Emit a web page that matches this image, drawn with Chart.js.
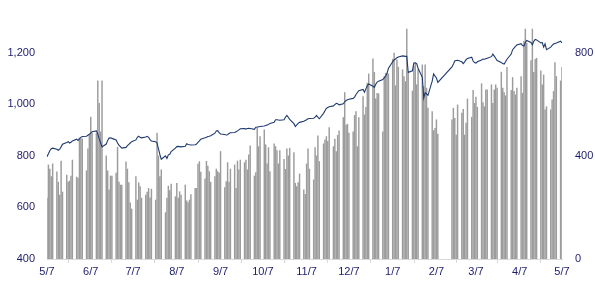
<!DOCTYPE html>
<html>
<head>
<meta charset="utf-8">
<script src="https://cdn.jsdelivr.net/npm/chart.js@4.4.0/dist/chart.umd.min.js"></script>
<style>
  html, body { margin: 0; padding: 0; background: #fff; }
  #wrap { width: 595px; height: 301px; }
</style>
</head>
<body>
<div id="wrap"><canvas id="chart"></canvas></div>
<script>
// tick labels on the date axis (the 7th of each month)
const monthTicks = ['5/7', '6/7', '7/7', '8/7', '9/7', '10/7', '11/7', '12/7', '1/7', '2/7', '3/7', '4/7', '5/7']
const leftTicks = [400, 600, 800, 1000, 1200]
const rightTicks = [0, 400, 800]
// market closed (besides weekends)
const holidays = ['2013-02-11', '2013-02-12', '2013-02-13', '2013-02-14', '2013-02-15']

// daily volume (right axis), one row per month from the 7th
const volume = [
  236, 365, 349, 320, 369, 338, 298, 248, 380, 260, 326, 298, 303, 322, 384, 318, 314, 470, 466, 466, 342, 427, 481,
  551, 488, 488, 691, 604, 493, 691, 400, 342, 268, 322, 322, 333, 434, 298, 287, 287, 377, 349, 296, 218, 194,
  320, 229, 296, 281, 236, 248, 260, 274, 237, 271, 229, 488, 400, 320, 346, 180, 236, 283, 265, 291, 242,
  294, 236, 261, 248, 287, 226, 219, 229, 250, 274, 274, 368, 378, 337, 311, 379, 360, 339, 298, 320, 349, 339, 333,
  417, 277, 300, 374, 298, 349, 365, 274, 380, 346, 384, 374, 384, 346, 404, 439, 322, 335, 507, 436, 475,
  501, 443, 369, 432, 339, 447, 436, 421, 369, 421, 387, 348, 427, 400, 430, 413, 294, 281, 296, 330, 268, 251,
  369, 427, 349, 307, 432, 400, 478, 378, 447, 462, 475, 456, 510, 436, 465, 417, 480, 497, 549, 646, 520, 523,
  488, 493, 557, 572, 436, 549, 630, 559, 588, 682, 718, 777, 724, 621, 643, 641, 493, 708, 721, 721, 718,
  775, 799, 672, 773, 744, 734, 708, 688, 892, 721, 652, 747, 760, 676, 736, 753, 669, 753, 663, 585, 572, 498, 507,
  540, 485, 540, 585, 546, 481, 598, 566, 581, 481, 527, 621, 550, 654, 604,
  628, 589, 680, 607, 591, 656, 656, 676, 604, 656, 676, 663, 725, 663, 646, 633, 744, 654, 704, 650, 637, 663,
  708, 643, 844, 892, 838, 770, 892, 724, 775, 779, 730, 676, 714, 579, 591, 579, 617, 650, 762, 708, 691,
  744
]

// index level (left axis)
const indexLevel = [
  797, 808, 820, 828, 830, 826, 822, 826, 835, 845, 852, 855, 850, 853, 858, 865, 860, 866, 872, 875, 876, 880, 884,
  888, 894, 897, 885, 866, 850, 835, 846, 860, 869, 870, 868, 862, 850, 842, 836, 830, 833, 840, 845, 850, 855,
  862, 872, 876, 872, 870, 873, 876, 872, 863, 858, 855, 850, 828, 805, 787, 800, 790, 804, 806, 817, 830,
  836, 837, 836, 835, 837, 847, 844, 843, 842, 843, 846, 852, 858, 865, 870, 872, 875, 876, 878, 888, 897, 898, 890,
  885, 883, 881, 882, 887, 890, 891, 894, 897, 901, 905, 906, 904, 906, 907, 906, 903, 911, 911, 913, 914,
  916, 918, 920, 922, 926, 930, 940, 940, 939, 938, 940, 950, 957, 950, 942, 925, 914, 920, 926, 930, 934, 937,
  940, 944, 945, 946, 950, 957, 950, 944, 965, 975, 984, 988, 991, 994, 999, 1004, 1002, 998, 1002, 1010, 1015, 1018,
  1020, 1023, 1028, 1038, 1046, 1053, 1058, 1047, 1060, 1072, 1079, 1070, 1066, 1078, 1086, 1090, 1096, 1103, 1109, 1120, 1140,
  1165, 1172, 1176, 1181, 1184, 1188, 1187, 1186, 1186, 1124, 1130, 1160, 1161, 1158, 1140, 1105, 1025, 1045, 1040, 1035, 1090, 1118, 1110,
  1102, 1085, 1145, 1155, 1168, 1170, 1171, 1165, 1158, 1165, 1173, 1178, 1183, 1168, 1162,
  1160, 1165, 1172, 1176, 1175, 1177, 1179, 1185, 1195, 1187, 1179, 1170, 1162, 1158, 1156, 1165, 1175, 1195, 1212, 1218, 1225, 1230,
  1235, 1228, 1226, 1240, 1248, 1240, 1231, 1245, 1252, 1250, 1238, 1240, 1222, 1235, 1212, 1222, 1229, 1234, 1236, 1238, 1245,
  1238
]

// build the calendar: one slot per day, values only on trading days
let labels = []
let volData = []
let lineData = []
let k = 0
let d = new Date(2012, 4, 7)
const end = new Date(2013, 4, 7)
while (d <= end) {
  const iso = d.getFullYear() + '-' + String(d.getMonth() + 1).padStart(2, '0') + '-' + String(d.getDate()).padStart(2, '0')
  labels.push(d.getDate() === 7 ? monthTicks[labels.filter(l => l !== '').length] : '')
  const wd = d.getDay()
  if (wd !== 0 && wd !== 6 && !holidays.includes(iso)) {
    volData.push(volume[k])
    lineData.push(indexLevel[k])
    k++
  } else {
    volData.push(null)
    lineData.push(null)
  }
  d.setDate(d.getDate() + 1)
}
console.log(k, volume.length, indexLevel.length)

const navy = '#1c1c6e'
const font = { family: 'Liberation Sans', size: 11 }

new Chart(document.getElementById('chart'), {
  type: 'bar',
  data: {
    labels: labels,
    datasets: [
      {
        type: 'line',
        data: lineData,
        yAxisID: 'yL',
        borderColor: '#1f3a70',
        borderWidth: 1.1,
        pointRadius: 0,
        tension: 0,
        spanGaps: true,
        order: 0
      },
      {
        type: 'bar',
        data: volData,
        yAxisID: 'yR',
        backgroundColor: '#9c9c9c',
        barThickness: 0.8,
        order: 1
      }
    ]
  },
  options: {
    responsive: true,
    maintainAspectRatio: false,
    animation: false,
    layout: { padding: { top: 27, left: 0, right: 0, bottom: 0 } },
    plugins: { legend: { display: false }, tooltip: { enabled: false } },
    scales: {
      x: {
        offset: false,
        grid: { display: true, drawOnChartArea: false, drawTicks: true, tickLength: 4, color: '#d9d9d9' },
        border: { display: true, color: '#d9d9d9' },
        ticks: {
          autoSkip: false,
          maxRotation: 0,
          color: navy,
          font: font,
          padding: 2,
          callback: function (v, i) { return labels[i] === '' ? null : labels[i] }
        },
        afterFit: s => { s.height = 42 }
      },
      yL: {
        position: 'left',
        min: 400,
        max: 1300,
        grid: { display: false, drawTicks: false },
        border: { display: false },
        afterBuildTicks: s => { s.ticks = leftTicks.map(v => ({ value: v })) },
        ticks: { color: navy, font: font, padding: 12, callback: v => v.toLocaleString('en-US') },
        afterFit: s => { s.width = 47 }
      },
      yR: {
        position: 'right',
        min: 0,
        max: 900,
        grid: { display: false, drawTicks: false },
        border: { display: false },
        afterBuildTicks: s => { s.ticks = rightTicks.map(v => ({ value: v })) },
        ticks: { color: navy, font: font, padding: 13 },
        afterFit: s => { s.width = 33 }
      }
    }
  }
})
</script>
</body>
</html>
